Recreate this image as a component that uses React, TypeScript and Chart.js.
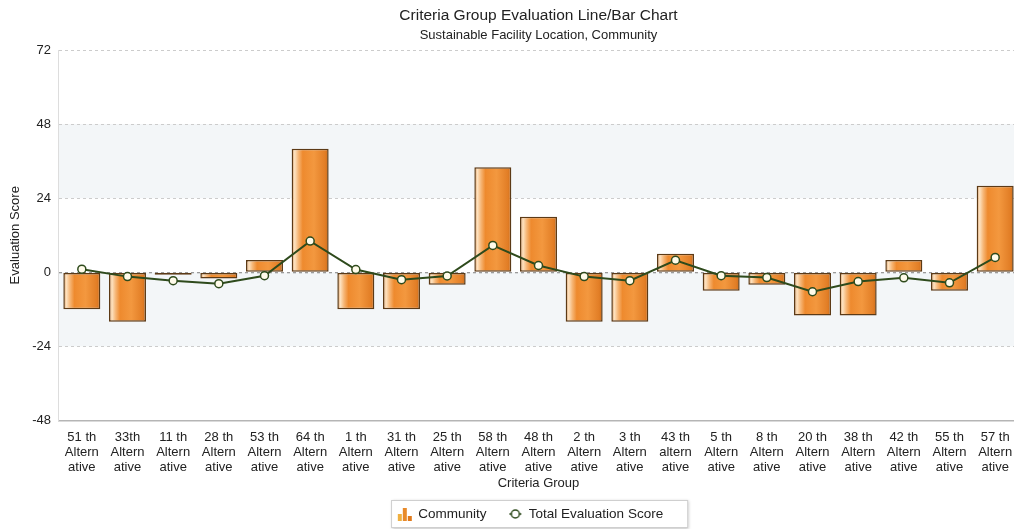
import React, { useEffect, useRef } from "react";
import { Chart, registerables } from "chart.js";

Chart.register(...registerables);

// Alternatives shown along the x axis, in display order
const categories: string[][] = [
  ["51 th", "Altern", "ative"],
  ["33th", "Altern", "ative"],
  ["11 th", "Altern", "ative"],
  ["28 th", "Altern", "ative"],
  ["53 th", "Altern", "ative"],
  ["64 th", "Altern", "ative"],
  ["1 th", "Altern", "ative"],
  ["31 th", "Altern", "ative"],
  ["25 th", "Altern", "ative"],
  ["58 th", "Altern", "ative"],
  ["48 th", "Altern", "ative"],
  ["2 th", "Altern", "ative"],
  ["3 th", "Altern", "ative"],
  ["43 th", "altern", "ative"],
  ["5 th", "Altern", "ative"],
  ["8 th", "Altern", "ative"],
  ["20 th", "Altern", "ative"],
  ["38 th", "Altern", "ative"],
  ["42 th", "Altern", "ative"],
  ["55 th", "Altern", "ative"],
  ["57 th", "Altern", "ative"],
];

// Community criteria score per alternative (bars)
const communityScores: number[] = [
  -12, -16, -0.8, -2, 4, 40, -12, -12, -4, 34, 18, -16, -16, 6, -6, -4, -14, -14, 4, -6, 28,
];

// Total evaluation score per alternative (line)
const totalScores: number[] = [
  1, -1.4, -2.7, -3.7, -1.1, 10.1, 0.9, -2.4, -1.2, 8.7, 2.2, -1.4, -2.7, 3.9, -1.1, -1.7, -6.3, -3,
  -1.8, -3.4, 4.8,
];

// Y axis range and tick step
const yMin = -48;
const yMax = 72;
const yStep = 24;

// Shaded horizontal bands [from, to]
const shadedBands: [number, number][] = [
  [24, 48],
  [-24, 0],
];

const FONT = "'Liberation Sans', Arial, Helvetica, sans-serif";
const TEXT = "#222222";
const BAR_PCT = 0.81;
const LEGEND_SHIFT = 18;

function barGradient(ctx: CanvasRenderingContext2D, x0: number, x1: number) {
  const g = ctx.createLinearGradient(x0, 0, x1, 0);
  g.addColorStop(0, "#d98a45");
  g.addColorStop(0.08, "#fde3c2");
  g.addColorStop(0.18, "#f6b676");
  g.addColorStop(0.3, "#ee8a2e");
  g.addColorStop(0.6, "#f3983f");
  g.addColorStop(0.9, "#e27e26");
  g.addColorStop(1, "#cc6d1c");
  return g;
}

function makeBarIcon(): HTMLCanvasElement {
  const c = document.createElement("canvas");
  c.width = 16;
  c.height = 14;
  const x = c.getContext("2d")!;
  const heights = [7, 13, 5];
  const cols = ["#f0b040", "#e88a2a", "#e07a1c"];
  heights.forEach((h, i) => {
    x.fillStyle = cols[i];
    x.fillRect(1 + i * 5, 14 - h, 4, h);
  });
  return c;
}

function makeLineIcon(): HTMLCanvasElement {
  const c = document.createElement("canvas");
  c.width = 18;
  c.height = 12;
  const x = c.getContext("2d")!;
  x.strokeStyle = "#2e4a1c";
  x.lineWidth = 1.5;
  x.beginPath();
  x.moveTo(3, 6);
  x.lineTo(15, 6);
  x.stroke();
  x.beginPath();
  x.arc(9, 6, 4, 0, Math.PI * 2);
  x.fillStyle = "#ffffff";
  x.fill();
  x.stroke();
  return c;
}

const backdropPlugin = {
  id: "backdrop",
  afterLayout(chart: any) {
    // nudge the legend row to the right
    const lg = chart.legend;
    if (lg) {
      lg.left += LEGEND_SHIFT;
      lg.right += LEGEND_SHIFT;
    }
  },
  beforeDraw(chart: any) {
    const { ctx, chartArea, scales } = chart;
    const ys = scales.y;
    ctx.save();
    ctx.fillStyle = "#ffffff";
    ctx.fillRect(0, 0, chart.width, chart.height);
    ctx.fillStyle = "#f3f6f8";
    shadedBands.forEach(([a, b]) => {
      const t = ys.getPixelForValue(b);
      const bt = ys.getPixelForValue(a);
      ctx.fillRect(chartArea.left, t, chartArea.right - chartArea.left, bt - t);
    });
    // Legend frame
    const lg = chart.legend;
    if (lg && lg.legendHitBoxes && lg.legendHitBoxes.length) {
      const hb = lg.legendHitBoxes;
      const first = hb[0];
      const last = hb[hb.length - 1];
      const left = first.left - 7;
      const right = last.left + last.width + 25;
      const cy = first.top + first.height / 2;
      const top = cy - 14;
      const h = 28;
      ctx.shadowColor = "rgba(0,0,0,0.25)";
      ctx.shadowBlur = 3;
      ctx.shadowOffsetX = 1;
      ctx.shadowOffsetY = 1;
      ctx.fillStyle = "#ffffff";
      ctx.fillRect(left, top, right - left, h);
      ctx.shadowColor = "transparent";
      ctx.strokeStyle = "#cfcfcf";
      ctx.lineWidth = 1;
      ctx.strokeRect(left + 0.5, top + 0.5, right - left - 1, h - 1);
    }
    ctx.restore();
  },
};

export default function App() {
  const canvasRef = useRef<HTMLCanvasElement | null>(null);

  useEffect(() => {
    const canvas = canvasRef.current;
    if (!canvas) return;
    const barIcon = makeBarIcon();
    const lineIcon = makeLineIcon();

    const chart = new Chart(canvas, {
      type: "bar",
      data: {
        labels: categories,
        datasets: [
          {
            type: "bar",
            label: "Community",
            data: communityScores,
            order: 2,
            backgroundColor: (c: any) => {
              const ch = c.chart;
              const xs = ch.scales && ch.scales.x;
              if (!xs || c.dataIndex == null) return "#ee8a2e";
              const cx = xs.getPixelForValue(c.dataIndex);
              const w = (xs.width / categories.length) * BAR_PCT;
              return barGradient(ch.ctx, cx - w / 2, cx + w / 2);
            },
            borderColor: "#5c3a16",
            borderWidth: 1.5,
            borderSkipped: false,
            barPercentage: BAR_PCT,
            categoryPercentage: 1,
          },
          {
            type: "line",
            label: "Total Evaluation Score",
            data: totalScores,
            order: 1,
            borderColor: "#2e4a1c",
            borderWidth: 2,
            pointRadius: 4,
            pointBackgroundColor: "#fffbea",
            pointBorderColor: "#2e4a1c",
            pointBorderWidth: 1.5,
            tension: 0,
          },
        ],
      },
      options: {
        animation: false,
        responsive: false,
        maintainAspectRatio: false,
        layout: { padding: { left: 7.2, right: 60, top: 0, bottom: -1.75 } },
        plugins: {
          title: {
            display: true,
            text: "Criteria Group Evaluation Line/Bar Chart",
            color: TEXT,
            font: { family: FONT, size: 15.5, weight: "normal" },
            padding: { top: 6.7, bottom: 1 },
            fullSize: false,
          },
          subtitle: {
            display: true,
            text: "Sustainable Facility Location, Community",
            color: TEXT,
            font: { family: FONT, size: 13, weight: "normal" },
            padding: { top: 0.9, bottom: 7.2 },
            fullSize: false,
          },
          legend: {
            display: true,
            position: "bottom",
            labels: {
              usePointStyle: true,
              color: TEXT,
              font: { family: FONT, size: 13.5 },
              padding: 22,
              generateLabels: () => [
                {
                  text: "Community",
                  pointStyle: barIcon,
                  fillStyle: "#ee8a2e",
                  strokeStyle: "#ee8a2e",
                  lineWidth: 0,
                  hidden: false,
                  datasetIndex: 0,
                  fontColor: TEXT,
                },
                {
                  text: "Total Evaluation Score",
                  pointStyle: lineIcon,
                  fillStyle: "#ffffff",
                  strokeStyle: "#2e4a1c",
                  lineWidth: 0,
                  hidden: false,
                  datasetIndex: 1,
                  fontColor: TEXT,
                },
              ],
            },
          },
          tooltip: { enabled: false },
        },
        scales: {
          x: {
            grid: { display: false, drawTicks: false, tickLength: 0 },
            border: { display: true, color: "#b5b5b5", width: 1.5 },
            ticks: {
              color: TEXT,
              font: { family: FONT, size: 13, lineHeight: 1.154 },
              padding: 9.5,
              maxRotation: 0,
              minRotation: 0,
              autoSkip: false,
            },
            title: {
              display: true,
              text: "Criteria Group",
              color: TEXT,
              font: { family: FONT, size: 13 },
              padding: { top: -9.3, bottom: -5.55 },
            },
          },
          y: {
            min: yMin,
            max: yMax,
            grid: {
              drawTicks: false,
              tickLength: 0,
              color: (c: any) => (c.tick && c.tick.value === 0 ? "#9a9a9a" : "#cccccc"),
              lineWidth: (c: any) => (c.tick && c.tick.value === 0 ? 1.3 : 1),
            },
            border: { display: true, color: "#dddddd", width: 1, dash: [3, 3] },
            ticks: {
              stepSize: yStep,
              color: TEXT,
              font: { family: FONT, size: 13 },
              padding: 8,
            },
            title: {
              display: true,
              text: "Evaluation Score",
              color: TEXT,
              font: { family: FONT, size: 13 },
              padding: { top: 0, bottom: 1.4 },
            },
          },
        },
      },
      plugins: [backdropPlugin],
    } as any);

    return () => chart.destroy();
  }, []);

  return (
    <div
      style={{
        position: "fixed",
        left: 0,
        top: 0,
        width: 1014,
        height: 529,
        overflow: "hidden",
        background: "#ffffff",
      }}
    >
      <canvas
        ref={canvasRef}
        width={1078}
        height={529}
        style={{ display: "block", width: 1078, height: 529 }}
      />
    </div>
  );
}
